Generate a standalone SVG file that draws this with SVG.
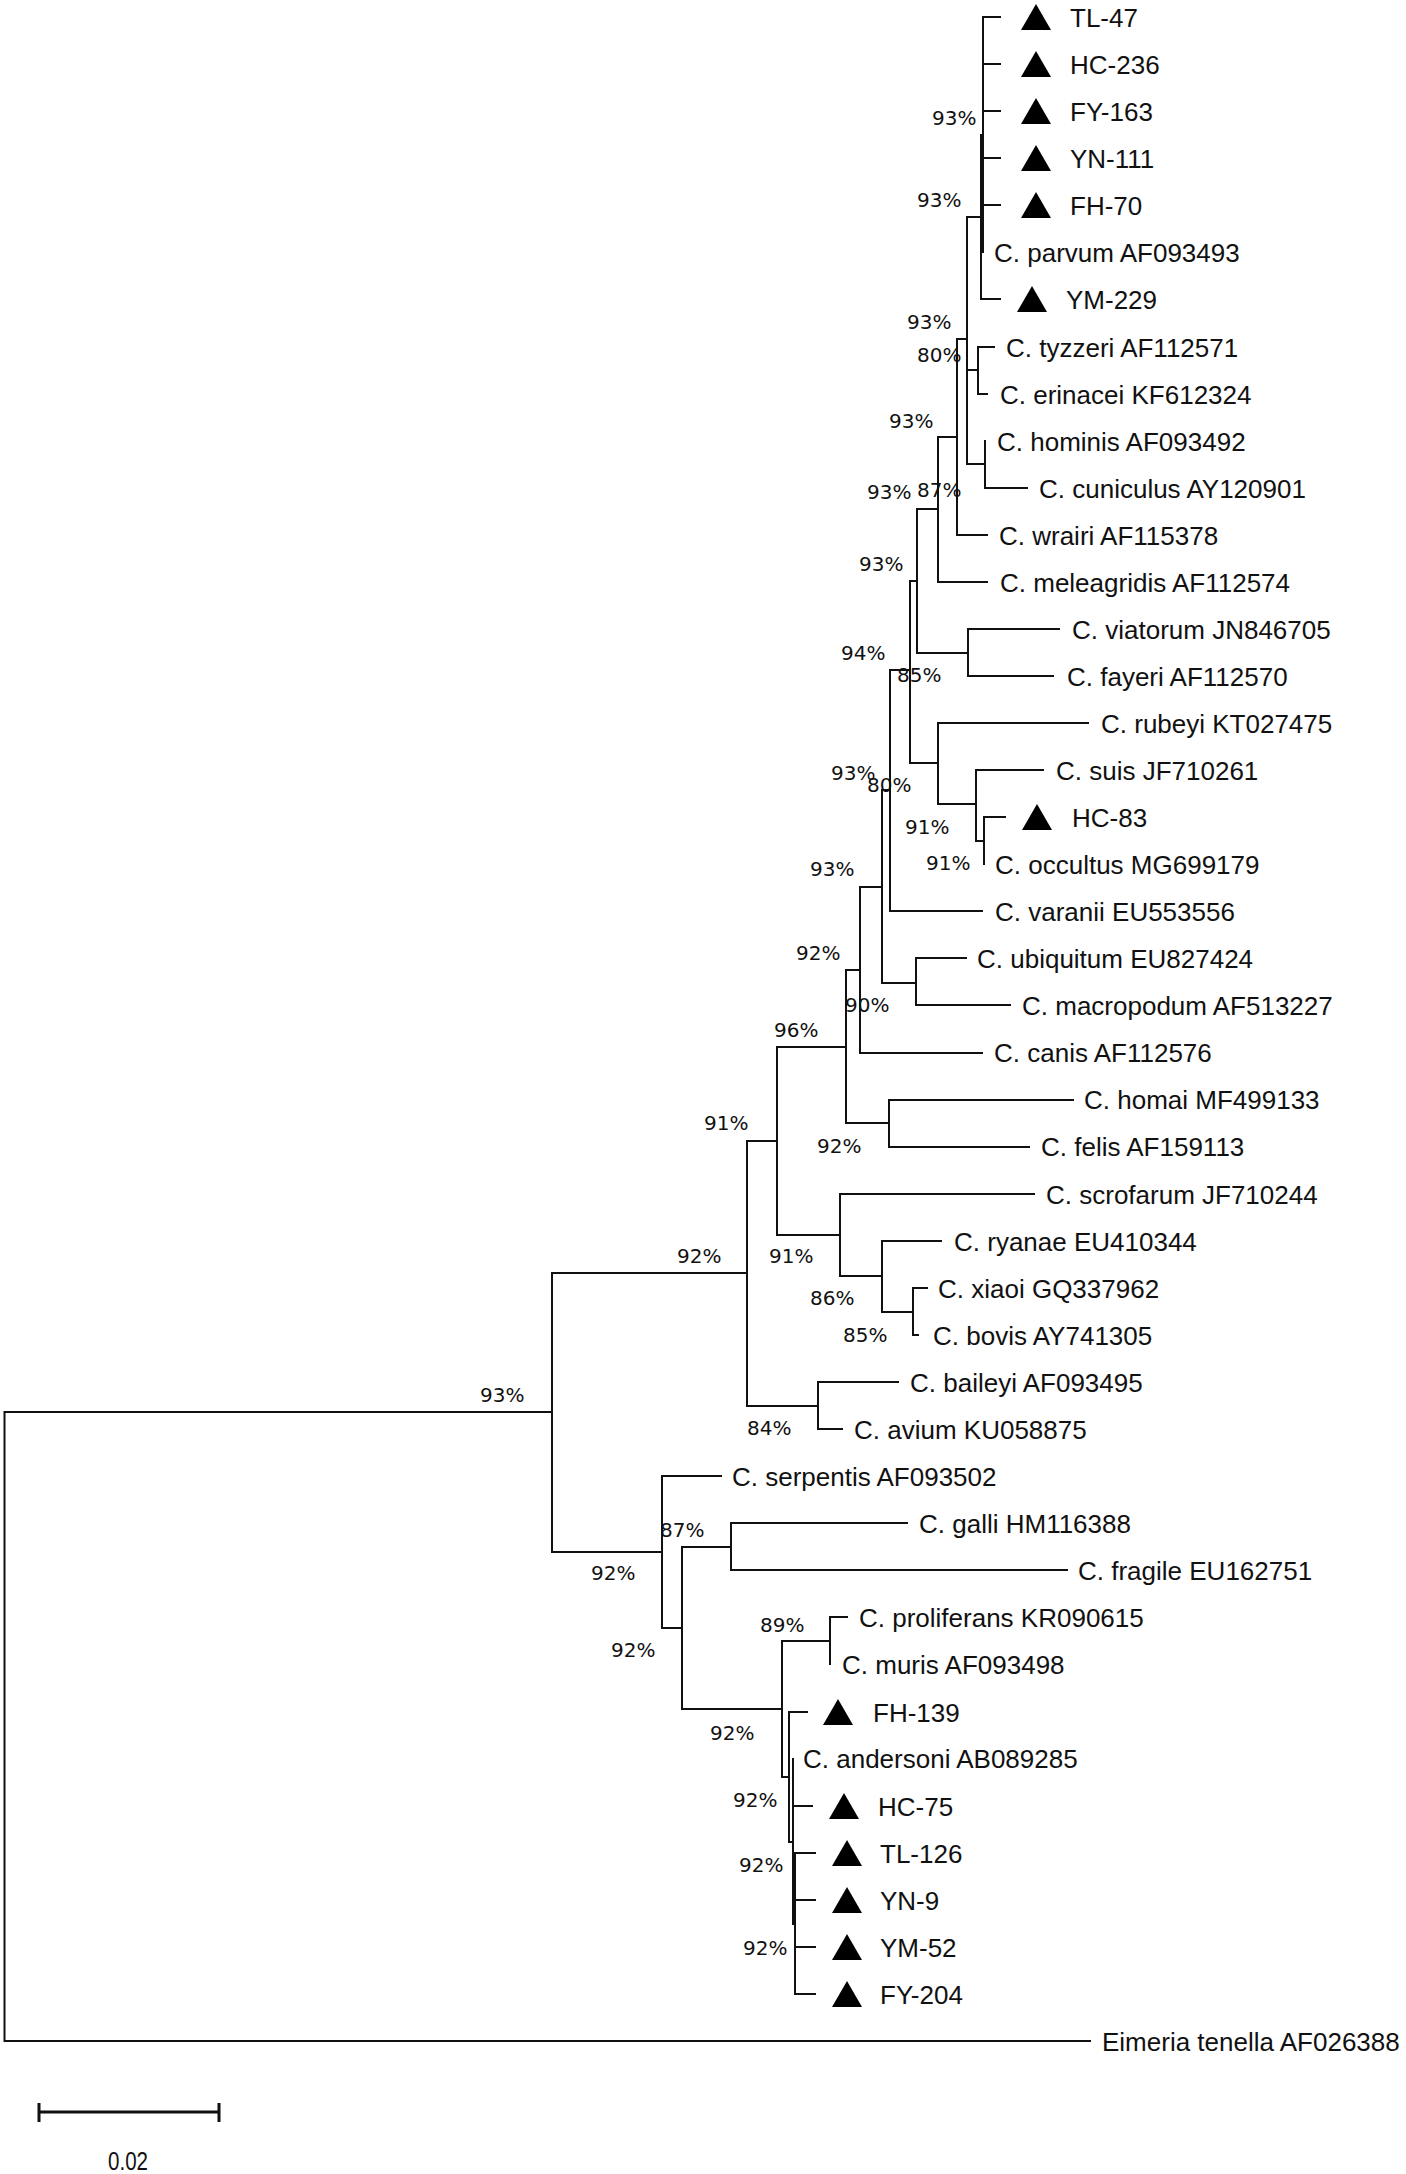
<svg xmlns="http://www.w3.org/2000/svg" width="1406" height="2174" viewBox="0 0 1406 2174">
<style>
.lf{font-family:"Liberation Sans",Arial,sans-serif;font-size:26px;fill:#111}
.bs{font-family:"DejaVu Sans",Verdana,sans-serif;font-size:20px;fill:#111}
.br{fill:none;stroke:#111;stroke-width:2;stroke-linecap:square}
.tri{fill:#000}
</style>
<defs>
<polygon id="tri" points="0,13 30,13 15,-13"/>
</defs>
<rect width="1406" height="2174" fill="#fff"/>
<g id="connectors" class="br">
<path d="M983 17V252 M983 17H1000 M983 64H1000 M983 111H1000 M983 158H1000 M983 205H1000 M981 135V299 M981 135H983 M981 299H1000 M967 217H981"/>
<path d="M978 347V394 M978 347H994 M978 394H987 M967 370H978 M985 441V488 M985 488H1027 M967 464H985 M967 217V464 M957 339H967"/>
<path d="M957 339V535 M957 535H987 M938 437H957 M938 437V582 M938 582H987 M917 509H938"/>
<path d="M968 629V676 M968 629H1059 M968 676H1053 M917 653H968 M917 509V653 M910 581H917"/>
<path d="M984 817V864 M984 817H1005 M976 841H984 M976 770V841 M976 770H1043 M938 804H976 M938 723V804 M938 723H1088 M910 763H938 M910 581V763 M890 670H910"/>
<path d="M890 670V911 M890 911H982 M882 790H890 M916 958V1005 M916 958H966 M916 1005H1010 M882 983H916 M882 790V983 M860 887H882 M860 887V1053 M860 1053H982 M846 970H860"/>
<path d="M889 1100V1147 M889 1100H1073 M889 1147H1029 M846 1123H889 M846 970V1123 M777 1047H846"/>
<path d="M913 1288V1335 M913 1288H927 M913 1335H918 M882 1312H913 M882 1241V1312 M882 1241H941 M840 1276H882 M840 1194V1276 M840 1194H1034 M777 1235H840 M777 1047V1235 M747 1141H777"/>
<path d="M818 1382V1429 M818 1382H898 M818 1429H842 M747 1406H818 M747 1141V1406 M552 1273H747"/>
<path d="M731 1523V1570 M731 1523H907 M731 1570H1067 M682 1547H731"/>
<path d="M830 1617V1664 M830 1617H847 M782 1641H830 M795 1853V1994 M795 1853H815 M795 1900H815 M795 1947H815 M795 1994H815 M793 1759V1924 M793 1924H795 M793 1806H812 M789 1842H793 M789 1712V1842 M789 1712H807 M782 1777H789 M782 1641V1777 M682 1709H782"/>
<path d="M682 1547V1709 M662 1628H682 M662 1476V1628 M662 1476H721 M552 1552H662 M552 1273V1552 M4.5 1412H552 M4.5 1412V2041 M4.5 2041H1090"/>
</g>
<g id="leaves">
<g id="TL-47"><use href="#tri" x="1021" y="17" class="tri"/><text class="lf" x="1070" y="26.5">TL-47</text></g>
<g id="HC-236"><use href="#tri" x="1021" y="64" class="tri"/><text class="lf" x="1070" y="73.5">HC-236</text></g>
<g id="FY-163"><use href="#tri" x="1021" y="111" class="tri"/><text class="lf" x="1070" y="120.5">FY-163</text></g>
<g id="YN-111"><use href="#tri" x="1021" y="158" class="tri"/><text class="lf" x="1070" y="167.5">YN-111</text></g>
<g id="FH-70"><use href="#tri" x="1021" y="205" class="tri"/><text class="lf" x="1070" y="214.5">FH-70</text></g>
<g id="parvum"><text class="lf" x="994" y="262">C. parvum AF093493</text></g>
<g id="YM-229"><use href="#tri" x="1017" y="299" class="tri"/><text class="lf" x="1066" y="308.5">YM-229</text></g>
<g id="tyzzeri"><text class="lf" x="1006" y="356.5">C. tyzzeri AF112571</text></g>
<g id="erinacei"><text class="lf" x="1000" y="403.5">C. erinacei KF612324</text></g>
<g id="hominis"><text class="lf" x="997" y="450.5">C. hominis AF093492</text></g>
<g id="cuniculus"><text class="lf" x="1039" y="497.5">C. cuniculus AY120901</text></g>
<g id="wrairi"><text class="lf" x="999" y="544.5">C. wrairi AF115378</text></g>
<g id="meleagridis"><text class="lf" x="1000" y="591.5">C. meleagridis AF112574</text></g>
<g id="viatorum"><text class="lf" x="1072" y="638.5">C. viatorum JN846705</text></g>
<g id="fayeri"><text class="lf" x="1067" y="685.5">C. fayeri AF112570</text></g>
<g id="rubeyi"><text class="lf" x="1101" y="732.5">C. rubeyi KT027475</text></g>
<g id="suis"><text class="lf" x="1056" y="779.5">C. suis JF710261</text></g>
<g id="HC-83"><use href="#tri" x="1022" y="817" class="tri"/><text class="lf" x="1072" y="826.5">HC-83</text></g>
<g id="occultus"><text class="lf" x="995" y="873.5">C. occultus MG699179</text></g>
<g id="varanii"><text class="lf" x="995" y="920.5">C. varanii EU553556</text></g>
<g id="ubiquitum"><text class="lf" x="977" y="967.5">C. ubiquitum EU827424</text></g>
<g id="macropodum"><text class="lf" x="1022" y="1014.5">C. macropodum AF513227</text></g>
<g id="canis"><text class="lf" x="994" y="1062">C. canis AF112576</text></g>
<g id="homai"><text class="lf" x="1084" y="1109">C. homai MF499133</text></g>
<g id="felis"><text class="lf" x="1041" y="1156">C. felis AF159113</text></g>
<g id="scrofarum"><text class="lf" x="1046" y="1203.5">C. scrofarum JF710244</text></g>
<g id="ryanae"><text class="lf" x="954" y="1250.5">C. ryanae EU410344</text></g>
<g id="xiaoi"><text class="lf" x="938" y="1297.5">C. xiaoi GQ337962</text></g>
<g id="bovis"><text class="lf" x="933" y="1344.5">C. bovis AY741305</text></g>
<g id="baileyi"><text class="lf" x="910" y="1391.5">C. baileyi AF093495</text></g>
<g id="avium"><text class="lf" x="854" y="1438.5">C. avium KU058875</text></g>
<g id="serpentis"><text class="lf" x="732" y="1485.5">C. serpentis AF093502</text></g>
<g id="galli"><text class="lf" x="919" y="1532.5">C. galli HM116388</text></g>
<g id="fragile"><text class="lf" x="1078" y="1579.5">C. fragile EU162751</text></g>
<g id="proliferans"><text class="lf" x="859" y="1626.5">C. proliferans KR090615</text></g>
<g id="muris"><text class="lf" x="842" y="1674">C. muris AF093498</text></g>
<g id="FH-139"><use href="#tri" x="823" y="1712" class="tri"/><text class="lf" x="873" y="1721.5">FH-139</text></g>
<g id="andersoni"><text class="lf" x="803" y="1768">C. andersoni AB089285</text></g>
<g id="HC-75"><use href="#tri" x="829" y="1806" class="tri"/><text class="lf" x="878" y="1815.5">HC-75</text></g>
<g id="TL-126"><use href="#tri" x="832" y="1853" class="tri"/><text class="lf" x="880" y="1862.5">TL-126</text></g>
<g id="YN-9"><use href="#tri" x="832" y="1900" class="tri"/><text class="lf" x="880" y="1909.5">YN-9</text></g>
<g id="YM-52"><use href="#tri" x="832" y="1947" class="tri"/><text class="lf" x="880" y="1956.5">YM-52</text></g>
<g id="FY-204"><use href="#tri" x="832" y="1994" class="tri"/><text class="lf" x="880" y="2003.5">FY-204</text></g>
<g id="eimeria"><text class="lf" x="1102" y="2050.5">Eimeria tenella AF026388</text></g>
</g>
<g id="bootstrap" class="bs">
<text x="932" y="125">93%</text>
<text x="917" y="207">93%</text>
<text x="907" y="329">93%</text>
<text x="917" y="362">80%</text>
<text x="889" y="428">93%</text>
<text x="867" y="499">93%</text>
<text x="917" y="497">87%</text>
<text x="859" y="571">93%</text>
<text x="841" y="660">94%</text>
<text x="897" y="682">85%</text>
<text x="831" y="780">93%</text>
<text x="867" y="792">80%</text>
<text x="905" y="834">91%</text>
<text x="926" y="870">91%</text>
<text x="810" y="876">93%</text>
<text x="796" y="960">92%</text>
<text x="845" y="1012">90%</text>
<text x="774" y="1037">96%</text>
<text x="704" y="1130">91%</text>
<text x="817" y="1153">92%</text>
<text x="677" y="1263">92%</text>
<text x="769" y="1263">91%</text>
<text x="810" y="1305">86%</text>
<text x="843" y="1342">85%</text>
<text x="480" y="1402">93%</text>
<text x="747" y="1435">84%</text>
<text x="660" y="1537">87%</text>
<text x="591" y="1580">92%</text>
<text x="611" y="1657">92%</text>
<text x="760" y="1632">89%</text>
<text x="710" y="1740">92%</text>
<text x="733" y="1807">92%</text>
<text x="739" y="1872">92%</text>
<text x="743" y="1955">92%</text>
</g>
<g id="scalebar">
<path d="M39 2112H219 M39 2103V2122 M219 2103V2122" fill="none" stroke="#111" stroke-width="3"/>
<text class="lf" x="108" y="2170" font-size="24" textLength="40" lengthAdjust="spacingAndGlyphs">0.02</text>
</g>
</svg>
